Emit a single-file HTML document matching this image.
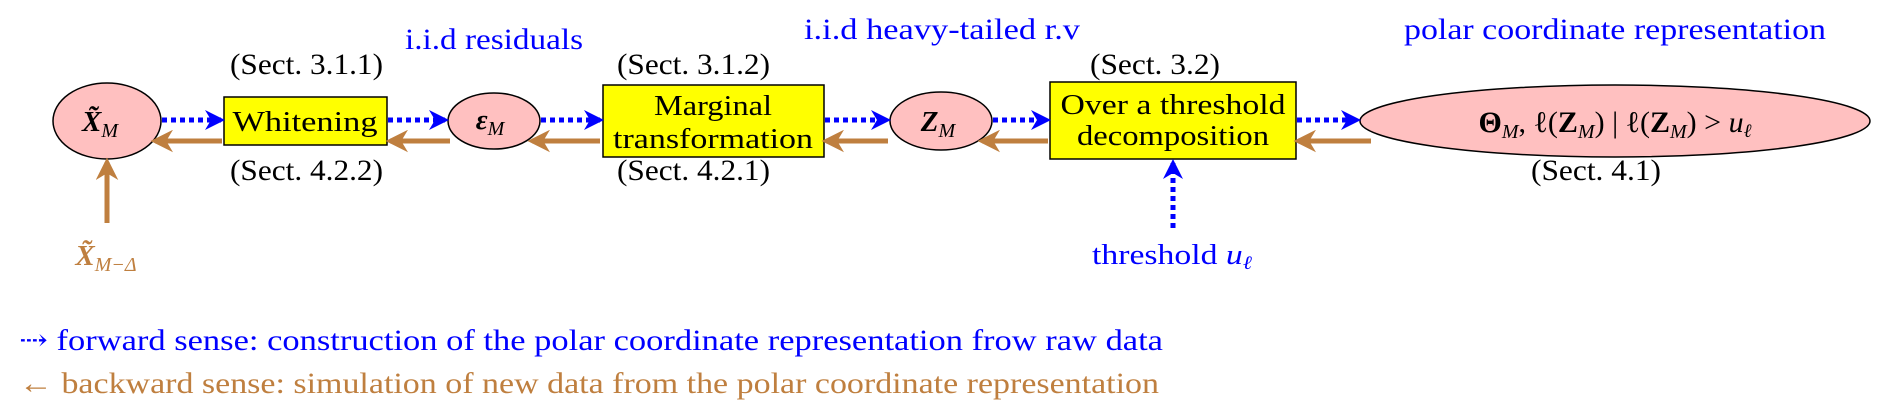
<!DOCTYPE html>
<html><head><meta charset="utf-8"><style>
html,body{margin:0;padding:0;background:#fff;}
svg{display:block;}
</style></head><body>
<svg width="1892" height="417" viewBox="0 0 1892 417" xmlns="http://www.w3.org/2000/svg" font-family="'Liberation Serif','DejaVu Serif',serif">
<defs>
<marker id="bh" viewBox="0 0 10 10" refX="8" refY="5" markerWidth="4" markerHeight="4" orient="auto"><path d="M0,0 L10,5 L0,10 L3,5 z" fill="#0000ff"/></marker>
<marker id="oh" viewBox="0 0 10 10" refX="8" refY="5" markerWidth="4.5" markerHeight="4.5" orient="auto"><path d="M0,0 L10,5 L0,10 L3,5 z" fill="#bf7f3f"/></marker>
</defs>
<g font-size="30">
<text x="405" y="42" fill="#0000ff" textLength="178" lengthAdjust="spacingAndGlyphs" dominant-baseline="middle">i.i.d residuals</text>
<text x="804" y="32" fill="#0000ff" textLength="276" lengthAdjust="spacingAndGlyphs" dominant-baseline="middle">i.i.d heavy-tailed r.v</text>
<text x="1404" y="32" fill="#0000ff" textLength="422" lengthAdjust="spacingAndGlyphs" dominant-baseline="middle">polar coordinate representation</text>
<text x="230" y="67" textLength="153" lengthAdjust="spacingAndGlyphs" dominant-baseline="middle">(Sect. 3.1.1)</text>
<text x="617" y="67" textLength="153" lengthAdjust="spacingAndGlyphs" dominant-baseline="middle">(Sect. 3.1.2)</text>
<text x="1090" y="67" textLength="130" lengthAdjust="spacingAndGlyphs" dominant-baseline="middle">(Sect. 3.2)</text>
<text x="230" y="173" textLength="153" lengthAdjust="spacingAndGlyphs" dominant-baseline="middle">(Sect. 4.2.2)</text>
<text x="617" y="173" textLength="153" lengthAdjust="spacingAndGlyphs" dominant-baseline="middle">(Sect. 4.2.1)</text>
<text x="1531" y="173" textLength="130" lengthAdjust="spacingAndGlyphs" dominant-baseline="middle">(Sect. 4.1)</text>
</g>
<ellipse cx="107" cy="121" rx="54" ry="38" fill="#ffc0c0" stroke="#000" stroke-width="1.5"/>
<rect x="224" y="97" width="163" height="48" fill="#ffff00" stroke="#000" stroke-width="1.5"/>
<ellipse cx="494" cy="121" rx="46" ry="28" fill="#ffc0c0" stroke="#000" stroke-width="1.5"/>
<rect x="603" y="85" width="221" height="72" fill="#ffff00" stroke="#000" stroke-width="1.5"/>
<ellipse cx="941" cy="121" rx="51" ry="29" fill="#ffc0c0" stroke="#000" stroke-width="1.5"/>
<rect x="1050" y="82" width="246" height="77" fill="#ffff00" stroke="#000" stroke-width="1.5"/>
<ellipse cx="1615" cy="121" rx="255" ry="36" fill="#ffc0c0" stroke="#000" stroke-width="1.5"/>
<g font-size="29" text-anchor="middle">
<text x="100" y="131" font-weight="bold" font-style="italic">X̃<tspan font-size="20" font-weight="normal" dy="6">M</tspan></text>
<text x="305" y="131" textLength="145" lengthAdjust="spacingAndGlyphs">Whitening</text>
<text x="490" y="129" font-weight="bold" font-style="italic">ε<tspan font-size="20" font-weight="normal" dy="6">M</tspan></text>
<text x="713" y="115" textLength="118" lengthAdjust="spacingAndGlyphs">Marginal</text>
<text x="713" y="148" textLength="200" lengthAdjust="spacingAndGlyphs">transformation</text>
<text x="938" y="131" font-weight="bold" font-style="italic">Z<tspan font-size="20" font-weight="normal" dy="6">M</tspan></text>
<text x="1173" y="114" textLength="225" lengthAdjust="spacingAndGlyphs">Over a threshold</text>
<text x="1173" y="145" textLength="192" lengthAdjust="spacingAndGlyphs">decomposition</text>
<text x="1615" y="132" font-size="30"><tspan font-weight="bold">Θ</tspan><tspan font-size="20" font-style="italic" dy="6">M</tspan><tspan dy="-6">, ℓ(</tspan><tspan font-weight="bold">Z</tspan><tspan font-size="20" font-style="italic" dy="6">M</tspan><tspan dy="-6">) | ℓ(</tspan><tspan font-weight="bold">Z</tspan><tspan font-size="20" font-style="italic" dy="6">M</tspan><tspan dy="-6">) &gt; </tspan><tspan font-style="italic">u</tspan><tspan font-size="19" font-style="italic" dy="5">ℓ</tspan></text>
</g>
<g stroke="#0000ff" stroke-width="5" stroke-dasharray="5,4" fill="none" marker-end="url(#bh)">
<line x1="162" y1="120" x2="221" y2="120"/>
<line x1="388" y1="120" x2="445" y2="120"/>
<line x1="541" y1="120" x2="600" y2="120"/>
<line x1="825" y1="120" x2="887" y2="120"/>
<line x1="993" y1="120" x2="1047" y2="120"/>
<line x1="1297" y1="120" x2="1357" y2="120"/>
<line x1="1173" y1="228" x2="1173" y2="163"/>
</g>
<g stroke="#bf7f3f" stroke-width="5" fill="none" marker-end="url(#oh)">
<line x1="222" y1="141" x2="155" y2="141"/>
<line x1="450" y1="141" x2="390" y2="141"/>
<line x1="600" y1="141" x2="532" y2="141"/>
<line x1="888" y1="141" x2="826" y2="141"/>
<line x1="1048" y1="141" x2="982" y2="141"/>
<line x1="1371" y1="141" x2="1298" y2="141"/>
<line x1="107" y1="223" x2="107" y2="162"/>
</g>
<text x="106" y="265" font-size="29" fill="#bf7f3f" text-anchor="middle" font-weight="bold" font-style="italic">X̃<tspan font-size="20" font-weight="normal" dy="6">M−Δ</tspan></text>
<text x="1092" y="264" font-size="29" fill="#0000ff" textLength="160" lengthAdjust="spacingAndGlyphs">threshold <tspan font-style="italic">u</tspan><tspan font-size="19" font-style="italic" dy="5">ℓ</tspan></text>
<text x="19" y="350" font-size="30" fill="#0000ff" textLength="1144" lengthAdjust="spacingAndGlyphs">⇢ forward sense: construction of the polar coordinate representation frow raw data</text>
<text x="19" y="393" font-size="30" fill="#bf7f3f" textLength="1140" lengthAdjust="spacingAndGlyphs">← backward sense: simulation of new data from the polar coordinate representation</text>
</svg>
</body></html>
